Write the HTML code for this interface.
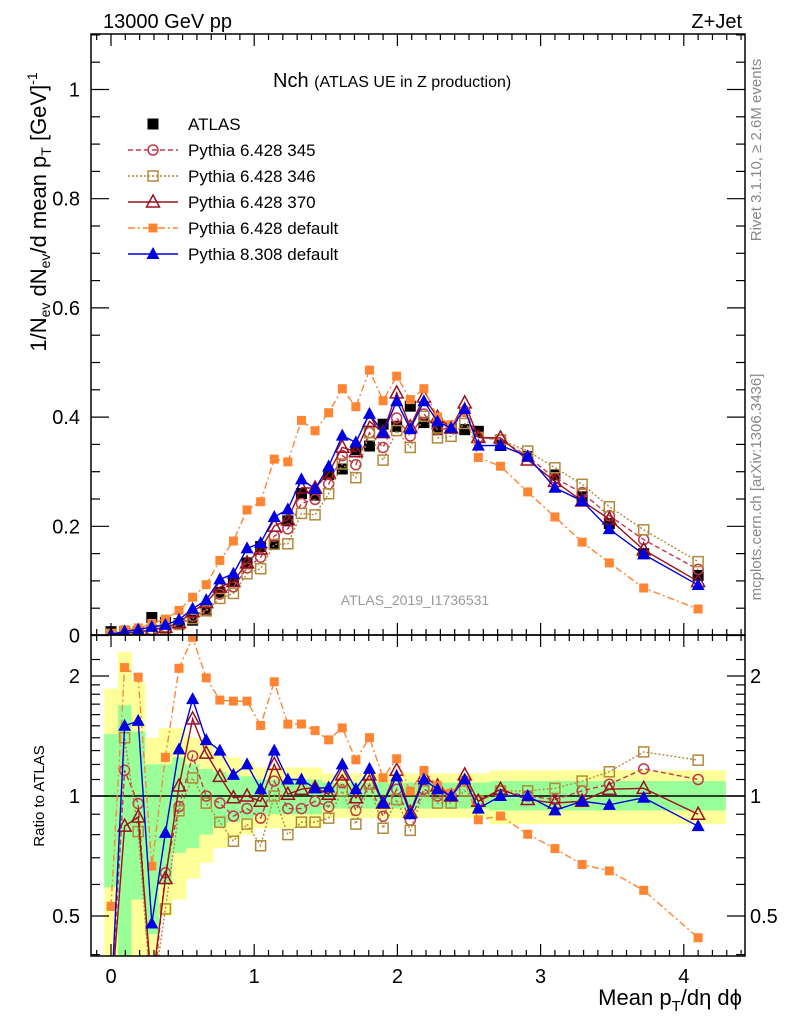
<!DOCTYPE html>
<html><head><meta charset="utf-8"><style>
body{margin:0;background:#fff;}
svg{display:block;font-family:"Liberation Sans",sans-serif;}
</style></head><body>
<svg id="chart" width="786" height="1024" viewBox="0 0 786 1024" xmlns="http://www.w3.org/2000/svg">
<rect width="786" height="1024" fill="#fff"/>
<g id="bands"></g>
<g id="plot"></g>
<g id="axes"></g>
<text x="103" y="28" font-size="20">13000 GeV pp</text>
<text x="742" y="28" font-size="20" text-anchor="end">Z+Jet</text>
<text x="273" y="87" font-size="20">Nch <tspan font-size="16">(ATLAS UE in Z production)</tspan></text>
<text x="415" y="605" font-size="14" fill="#999" text-anchor="middle">ATLAS_2019_I1736531</text>
<text transform="translate(761,150) rotate(-90)" font-size="15" fill="#888" text-anchor="middle">Rivet 3.1.10, ≥ 2.6M events</text>
<text transform="translate(761,487) rotate(-90)" font-size="15" fill="#888" text-anchor="middle">mcplots.cern.ch [arXiv:1306.3436]</text>
<text transform="translate(46,212) rotate(-90)" font-size="22" text-anchor="middle">1/N<tspan font-size="14" dy="4">ev</tspan><tspan dy="-4"> dN</tspan><tspan font-size="14" dy="4">ev</tspan><tspan dy="-4">/d mean p</tspan><tspan font-size="14" dy="5">T</tspan><tspan dy="-5"> [GeV]</tspan><tspan font-size="14" dy="-9">-1</tspan></text>
<text transform="translate(44,796) rotate(-90)" font-size="15" text-anchor="middle">Ratio to ATLAS</text>
<text x="742" y="1005" font-size="22" text-anchor="end">Mean p<tspan font-size="15" dy="6">T</tspan><tspan dy="-6">/dη dϕ</tspan></text>
<g id="legend"></g>
</svg>
<script>
const xs=[0,0.095,0.19,0.285,0.38,0.475,0.57,0.665,0.76,0.855,0.95,1.045,1.14,1.235,1.33,1.425,1.52,1.615,1.71,1.805,1.9,1.995,2.09,2.185,2.28,2.375,2.47,2.565,2.72,2.91,3.10,3.29,3.48,3.72,4.10];
const atlas=[0.007,0.005,0.007,0.033,0.024,0.022,0.028,0.047,0.079,0.1,0.133,0.163,0.167,0.21,0.26,0.257,0.295,0.305,0.34,0.347,0.387,0.383,0.42,0.39,0.377,0.38,0.377,0.374,0.348,0.328,0.294,0.254,0.205,0.15,0.11];
const p345=[0.0021,0.0058,0.0067,0.0099,0.0154,0.0207,0.0353,0.047,0.0758,0.089,0.1237,0.1434,0.182,0.1953,0.2418,0.2493,0.2773,0.3294,0.3128,0.3713,0.3444,0.3983,0.3654,0.4056,0.377,0.38,0.4109,0.3628,0.3584,0.328,0.2881,0.2616,0.2194,0.1755,0.121];
const p346=[0.0021,0.007,0.0057,0.0099,0.0125,0.0202,0.0311,0.0451,0.0679,0.077,0.1131,0.1223,0.167,0.168,0.2236,0.221,0.2596,0.3142,0.289,0.3713,0.3212,0.3753,0.3444,0.4017,0.3619,0.3648,0.3883,0.3628,0.3584,0.3378,0.3072,0.2769,0.2358,0.1935,0.1353];
const p370=[0.0021,0.0042,0.0062,0.0109,0.0149,0.0233,0.0437,0.0602,0.0885,0.099,0.133,0.1581,0.2004,0.2121,0.2704,0.2699,0.298,0.3447,0.3366,0.3921,0.3715,0.4443,0.3822,0.4368,0.3996,0.38,0.426,0.3628,0.3619,0.3214,0.2822,0.2464,0.2132,0.1568,0.099];
const p6def=[0.0037,0.0105,0.0139,0.022,0.03,0.046,0.07,0.093,0.1375,0.173,0.23,0.245,0.323,0.318,0.394,0.375,0.408,0.452,0.419,0.486,0.43,0.475,0.432,0.452,0.4,0.386,0.41,0.326,0.31,0.263,0.217,0.171,0.133,0.087,0.0485];
const p8def=[0.0021,0.0075,0.0108,0.0158,0.0194,0.0288,0.049,0.0649,0.1027,0.113,0.1596,0.1695,0.2171,0.231,0.286,0.2686,0.3098,0.366,0.3536,0.406,0.3715,0.429,0.378,0.429,0.392,0.38,0.4147,0.3478,0.348,0.328,0.2705,0.2464,0.1948,0.1485,0.0924];
const yelHi=[1.86,2.3,1.94,1.4,1.48,1.48,1.4,1.35,1.28,1.25,1.22,1.18,1.18,1.18,1.18,1.18,1.14,1.14,1.14,1.14,1.14,1.14,1.14,1.14,1.14,1.14,1.14,1.14,1.16,1.16,1.16,1.16,1.16,1.16,1.16];
const yelLo=[0.3,0.3,0.3,0.35,0.5,0.55,0.62,0.68,0.74,0.78,0.8,0.83,0.83,0.83,0.83,0.83,0.88,0.88,0.88,0.88,0.88,0.88,0.88,0.88,0.88,0.88,0.88,0.88,0.85,0.85,0.85,0.85,0.85,0.85,0.85];
const grnHi=[1.43,1.69,1.45,1.2,1.2,1.25,1.2,1.17,1.15,1.13,1.12,1.1,1.1,1.1,1.1,1.1,1.08,1.08,1.08,1.08,1.08,1.08,1.08,1.08,1.08,1.08,1.08,1.08,1.09,1.09,1.09,1.09,1.09,1.09,1.09];
const grnLo=[0.59,0.3,0.55,0.45,0.6,0.72,0.74,0.8,0.84,0.86,0.88,0.9,0.9,0.9,0.9,0.9,0.93,0.93,0.93,0.93,0.93,0.93,0.93,0.93,0.93,0.93,0.93,0.93,0.92,0.92,0.92,0.92,0.92,0.92,0.92];
const mainYTicks=[0,0.2,0.4,0.6,0.8,1];
const mainYLabels=["0","0.2","0.4","0.6","0.8","1"];
const xTicks=[0,1,2,3,4];
const ratioTicks=[0.5,1,2];
const ratioLabels=["0.5","1","2"];

const NS="http://www.w3.org/2000/svg";
const L=91,R=745,MT=34,MB=635,RT=635,RB=956;
const X=v=>111+v*143.2;
const Y=v=>635.5-v*546;
const RY=r=>796-120*Math.log2(r);
function mk(tag,attrs,parent){const e=document.createElementNS(NS,tag);for(const k in attrs)e.setAttribute(k,attrs[k]);parent.appendChild(e);return e;}
const svg=document.getElementById('chart');
const defs=mk('defs',{},svg);
const c1=mk('clipPath',{id:'cm'},defs);mk('rect',{x:L,y:MT,width:R-L,height:MB-MT},c1);
const c2=mk('clipPath',{id:'cr'},defs);mk('rect',{x:L,y:RT,width:R-L,height:RB-RT},c2);
const bands=document.getElementById('bands');
bands.setAttribute('clip-path','url(#cr)');
function edges(i){const lo=i==0?xs[0]-(xs[1]-xs[0])/2:(xs[i-1]+xs[i])/2;const hi=i==xs.length-1?xs[i]+(xs[i]-xs[i-1])/2:(xs[i]+xs[i+1])/2;return [lo,hi];}
for(let i=0;i<xs.length;i++){const [a,b]=edges(i);
 const ry=mk('rect',{x:X(a),y:RY(yelHi[i]),width:X(b)-X(a)+0.5,height:RY(yelLo[i])-RY(yelHi[i]),fill:'#ffff99'},bands);
 
 
 const rg=mk('rect',{x:X(a),y:RY(grnHi[i]),width:X(b)-X(a)+0.5,height:RY(grnLo[i])-RY(grnHi[i]),fill:'#99ff99'},bands);
 
 }
const plot=document.getElementById('plot');
const gm=mk('g',{'clip-path':'url(#cm)'},plot);
const gr=mk('g',{'clip-path':'url(#cr)'},plot);
mk('line',{x1:L,x2:R,y1:RY(1),y2:RY(1),stroke:'#000','stroke-width':1.5},gr);
function marker(type,color,x,y,g){
 const s=5.5;
 if(type=='sqf')return mk('rect',{x:x-s,y:y-s,width:2*s,height:2*s,fill:color},g);
 if(type=='sqs')return mk('rect',{x:x-4.5,y:y-4.5,width:9,height:9,fill:color},g);
 if(type=='sqo')return mk('rect',{x:x-5,y:y-5,width:10,height:10,fill:'none',stroke:color,'stroke-width':1.5},g);
 if(type=='circ')return mk('circle',{cx:x,cy:y,r:5,fill:'none',stroke:color,'stroke-width':1.5},g);
 if(type=='trio')return mk('polygon',{points:`${x},${y-7} ${x-6.5},${y+5} ${x+6.5},${y+5}`,fill:'none',stroke:color,'stroke-width':1.5},g);
 if(type=='trif')return mk('polygon',{points:`${x},${y-7} ${x-6.5},${y+5} ${x+6.5},${y+5}`,fill:color},g);
}
const series=[
 {name:'pythia-6-345',label:'Pythia 6.428 345',data:p345,color:'#c0394b',dash:'5,3',m:'circ'},
 {name:'pythia-6-346',label:'Pythia 6.428 346',data:p346,color:'#b08a3a',dash:'2,2',m:'sqo'},
 {name:'pythia-6-370',label:'Pythia 6.428 370',data:p370,color:'#9b1020',dash:'',m:'trio'},
 {name:'pythia-6-default',label:'Pythia 6.428 default',data:p6def,color:'#ff8533',dash:'7,3,2,3',m:'sqs'},
 {name:'pythia-8-default',label:'Pythia 8.308 default',data:p8def,color:'#0000e0',dash:'',m:'trif'}];
const ga=mk('g',{},gm);


series.forEach(s=>{
 const g=mk('g',{},gm);
 
 
 const pts=xs.map((x,i)=>X(x)+','+Y(s.data[i])).join(' ');
 const pl=mk('polyline',{points:pts,fill:'none',stroke:s.color,'stroke-width':1.4,'stroke-dasharray':s.dash},g);
 
 
 xs.forEach((x,i)=>{const m=marker(s.m,s.color,X(x),Y(s.data[i]),g);
  
  });
 const g2=mk('g',{},gr);
 
 
 const rp=xs.map((x,i)=>X(x)+','+RY(s.data[i]/atlas[i])).join(' ');
 const pl2=mk('polyline',{points:rp,fill:'none',stroke:s.color,'stroke-width':1.4,'stroke-dasharray':s.dash},g2);
 
 
 xs.forEach((x,i)=>{const m=marker(s.m,s.color,X(x),RY(s.data[i]/atlas[i]),g2);
  
  });
});
xs.forEach((x,i)=>{const m=marker('sqf','#000',X(x),Y(atlas[i]),ga);
 
 });
const ax=document.getElementById('axes');


mk('rect',{x:L,y:MT,width:R-L,height:MB-MT,fill:'none',stroke:'#000','stroke-width':1.5},ax);
mk('rect',{x:L,y:RT,width:R-L,height:RB-RT,fill:'none',stroke:'#000','stroke-width':1.5},ax);
function tl(x1,y1,x2,y2){mk('line',{x1,y1,x2,y2,stroke:'#000','stroke-width':1.2},ax);}
for(let k=-1;k<=44;k++){const v=k/10;const x=X(v);if(x<=L||x>=R)continue;const maj=k%10==0;const len=maj?12:6;
 tl(x,MB,x,MB-len);tl(x,MT,x,MT+len);tl(x,RB,x,RB-len);tl(x,RT,x,RT+len);}
xTicks.forEach(v=>{const t=mk('text',{x:X(v),y:983,'font-size':20,'text-anchor':'middle'},ax);t.textContent=String(v);
 
 });
for(let k=0;k<=22;k++){const v=k*0.05;const y=Y(v);if(y<MT)continue;const maj=k%4==0;const len=maj?18:9;tl(L,y,L+len,y);tl(R,y,R-len,y);}
mainYTicks.forEach((v,i)=>{const t=mk('text',{x:80,y:Y(v)+7,'font-size':20,'text-anchor':'end'},ax);t.textContent=mainYLabels[i];
 
 });
[0.4,0.5,0.6,0.7,0.8,0.9,1,1.1,1.2,1.3,1.4,1.5,1.6,1.7,1.8,1.9,2,2.2].forEach(r=>{const y=RY(r);if(y<RT||y>RB)return;const maj=ratioTicks.includes(r);const len=maj?18:9;tl(L,y,L+len,y);tl(R,y,R-len,y);});
ratioTicks.forEach((r,i)=>{const t=mk('text',{x:80,y:RY(r)+7,'font-size':20,'text-anchor':'end'},ax);t.textContent=ratioLabels[i];
 
 
 const t2=mk('text',{x:750,y:RY(r)+7,'font-size':20},ax);t2.textContent=ratioLabels[i];
 
 });
const lg=document.getElementById('legend');
const rows=[{label:'ATLAS',m:'sqf',color:'#000',dash:null,name:'atlas'}].concat(series);
rows.forEach((s,i)=>{const y=124+i*26;const g=mk('g',{},lg);
 
 
 if(s.dash!==null)mk('line',{x1:128,x2:178,y1:y,y2:y,stroke:s.color,'stroke-width':1.4,'stroke-dasharray':s.dash},g);
 marker(s.m,s.color,153,y,g);
 const t=mk('text',{x:188,y:y+6,'font-size':17},g);t.textContent=s.label;});
</script>
</body></html>
